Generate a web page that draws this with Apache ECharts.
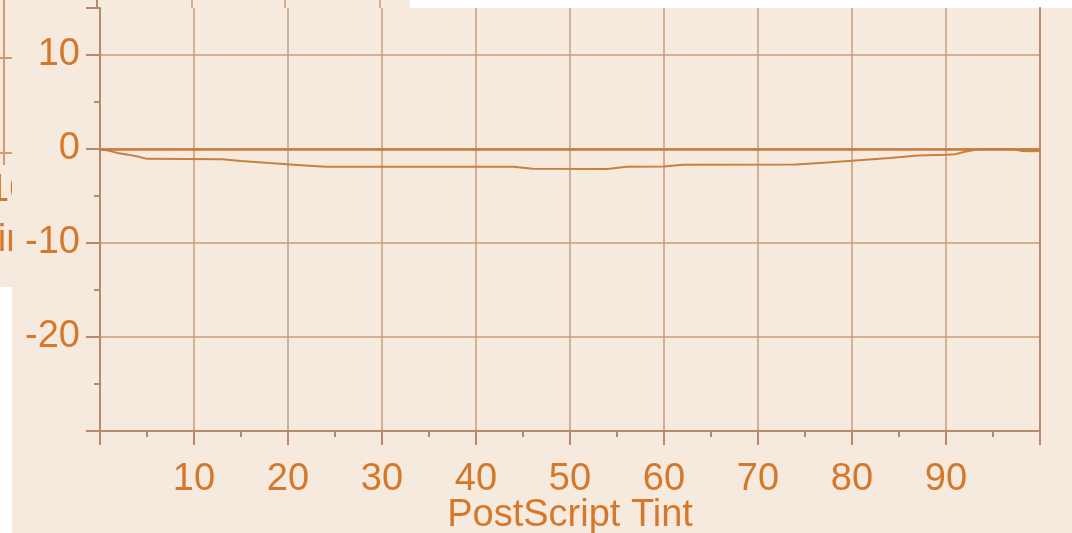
<!DOCTYPE html>
<html>
<head>
<meta charset="utf-8">
<style>
  html, body { margin: 0; padding: 0; background: #ffffff; }
  #chart { width: 1072px; height: 533px; }
</style>
<script src="https://cdn.jsdelivr.net/npm/echarts@6/dist/echarts.min.js"></script>
</head>
<body>
<div id="chart"></div>
<script>
// tint (%) vs difference
const tintValues = [0, 1, 2, 3, 4, 5, 13, 15, 18, 21, 24, 30, 44, 46, 54, 56, 60, 62, 74, 77, 80, 84, 87, 90, 91, 92, 93, 94, 97, 98, 99, 100];
const diffValues = [0, -0.2, -0.45, -0.6, -0.8, -1.05, -1.08, -1.28, -1.5, -1.7, -1.9, -1.9, -1.88, -2.1, -2.12, -1.88, -1.85, -1.67, -1.66, -1.45, -1.25, -0.95, -0.7, -0.6, -0.55, -0.3, -0.1, 0, 0, -0.2, -0.25, -0.2];
const yLabels = [-20, -10, 0, 10];
const xLabels = [10, 20, 30, 40, 50, 60, 70, 80, 90];

const peach = "#f6eadf";
const labelColor = "#d4792c";
const axisColor = "#b8896a";
const gridColor = "#c49c7e";
const lineColor = "#c97f3e";
const font = "'Liberation Sans', Arial, sans-serif";

const chart = echarts.init(document.getElementById("chart"));

const option = {
  backgroundColor: peach,
  animation: false,
  grid: { left: 100, right: 32, top: 8, bottom: 102, outerBoundsMode: "none", containLabel: false },
  xAxis: {
    type: "value",
    min: 0,
    max: 100,
    interval: 10,
    name: "PostScript Tint",
    nameLocation: "middle",
    nameGap: 66,
    nameMoveOverlap: false,
    nameTextStyle: { color: labelColor, fontSize: 38, fontFamily: font },
    axisLine: { show: true, onZero: false, lineStyle: { color: axisColor, width: 2 } },
    axisTick: { show: true, inside: false, length: 14, lineStyle: { color: axisColor, width: 2 } },
    minorTick: { show: true, splitNumber: 2, length: 6, lineStyle: { color: axisColor, width: 2 } },
    axisLabel: {
      color: labelColor,
      fontSize: 38,
      fontFamily: font,
      margin: 30,
      customValues: xLabels
    },
    splitLine: { show: true, lineStyle: { color: gridColor, width: 1.5 } }
  },
  yAxis: [
    {
      type: "value",
      min: -30,
      max: 15,
      interval: 10,
      axisLine: { show: true, onZero: false, lineStyle: { color: axisColor, width: 2 } },
      axisTick: { show: true, inside: false, length: 14, lineStyle: { color: axisColor, width: 2 } },
      minorTick: { show: true, splitNumber: 2, length: 6, lineStyle: { color: axisColor, width: 2 } },
      axisLabel: {
        color: labelColor,
        fontSize: 38,
        fontFamily: font,
        margin: 20,
        customValues: yLabels
      },
      splitLine: { show: true, showMaxLine: false, lineStyle: { color: gridColor, width: 1.5 } }
    },
    {
      type: "value",
      position: "right",
      min: -30,
      max: 15,
      axisLine: { show: true, onZero: false, lineStyle: { color: axisColor, width: 2 } },
      axisTick: { show: false },
      axisLabel: { show: false },
      splitLine: { show: false }
    }
  ],
  series: [
    {
      type: "line",
      data: tintValues.map((t, i) => [t, diffValues[i]]),
      showSymbol: false,
      lineStyle: { color: lineColor, width: 2 },
      markLine: {
        silent: true,
        symbol: "none",
        label: { show: false },
        lineStyle: { color: "#c67a3c", width: 2.5, type: "solid" },
        data: [{ yAxis: 0 }]
      }
    }
  ],
  // bits of the neighbouring window that show at the edges
  graphic: [
    { type: "rect", z: -3, shape: { x: 410, y: 0, width: 662, height: 8 }, style: { fill: "#ffffff" } },
    { type: "rect", z: -3, shape: { x: 0, y: 287, width: 12, height: 246 }, style: { fill: "#ffffff" } },
    { type: "line", z: -3, shape: { x1: 4, y1: 0, x2: 4, y2: 165 }, style: { stroke: "#d49a6e", lineWidth: 2 } },
    { type: "line", z: -3, shape: { x1: 0, y1: 58, x2: 12, y2: 58 }, style: { stroke: "#d49a6e", lineWidth: 2 } },
    { type: "line", z: -3, shape: { x1: 0, y1: 153, x2: 12, y2: 153 }, style: { stroke: "#d49a6e", lineWidth: 2 } },
    { type: "line", z: -3, shape: { x1: 97, y1: 0, x2: 97, y2: 8 }, style: { stroke: axisColor, lineWidth: 2 } },
    { type: "line", z: -3, shape: { x1: 192, y1: 0, x2: 192, y2: 8 }, style: { stroke: gridColor, lineWidth: 1.5 } },
    { type: "line", z: -3, shape: { x1: 285, y1: 0, x2: 285, y2: 8 }, style: { stroke: gridColor, lineWidth: 1.5 } },
    { type: "line", z: -3, shape: { x1: 380, y1: 0, x2: 380, y2: 8 }, style: { stroke: gridColor, lineWidth: 1.5 } },
    { type: "text", z: -2, left: -12, top: 172, style: { text: "10", fill: labelColor, font: "38px " + font } },
    { type: "text", z: -2, left: -24, top: 222, style: { text: "Tint", fill: labelColor, font: "38px " + font } },
    { type: "rect", z: -1, shape: { x: 12, y: 165, width: 60, height: 110 }, style: { fill: peach } }
  ]
};

chart.setOption(option);
</script>
</body>
</html>
